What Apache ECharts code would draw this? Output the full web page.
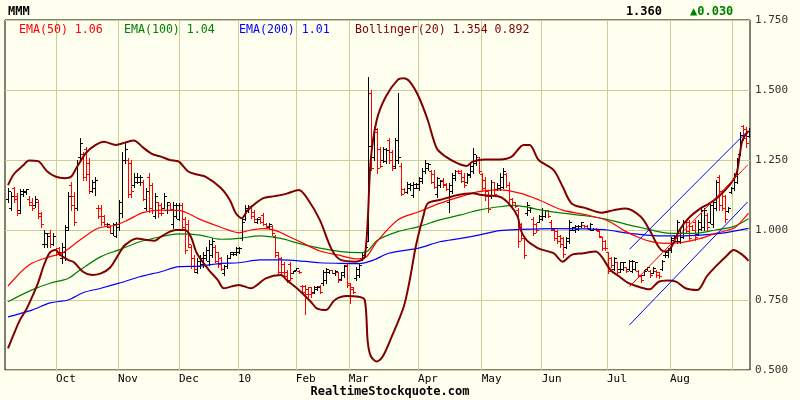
<!DOCTYPE html>
<html><head><meta charset="utf-8">
<script src="https://cdn.jsdelivr.net/npm/echarts@6/dist/echarts.min.js"></script>
<style>html,body{margin:0;padding:0;background:#FFFFF0}#c{width:800px;height:400px}</style>
</head><body><div id="c"></div>
<script>
// ---------- data ----------
const symbol = 'MMM';
const lastPrice = '1.360';
const lastChange = '0.030';
const legendEma50 = '1.06', legendEma100 = '1.04', legendEma200 = '1.01';
const legendBollUpper = '1.354', legendBollLower = '0.892';

const monthLabels = ['Oct','Nov','Dec','10','Feb','Mar','Apr','May','Jun','Jul','Aug',''];
const monthTickPos = [16, 36.7, 57, 76.7, 96, 113.7, 136.8, 158, 178, 199.8, 220.8, 241.5];
const priceTicks = [0.5, 0.75, 1.0, 1.25, 1.5, 1.75];

const opens = [1.11,1.08,1.15,1.12,1.07,1.13,1.135,1.11,1.10,1.09,1.10,1.06,0.95,0.95,0.99,0.95,0.93,0.935,0.90,0.92,
1.01,1.16,1.12,1.08,1.26,1.27,1.29,1.24,1.14,1.15,1.08,1.08,1.05,1.015,1.01,0.99,0.98,1.01,1.06,1.25,
1.25,1.24,1.16,1.17,1.17,1.17,1.08,1.19,1.16,1.05,1.10,1.09,1.08,1.07,1.09,1.02,1.05,1.04,1.09,1.04,
1.02,0.94,0.90,0.85,0.87,0.88,0.90,0.89,0.91,0.94,0.92,0.90,0.845,0.87,0.90,0.915,0.915,0.92,0.97,1.04,
1.07,1.085,1.065,1.03,1.045,1.055,1.02,1.01,1.015,0.98,0.92,0.90,0.88,0.85,0.88,0.848,0.858,0.855,0.80,0.80,
0.79,0.795,0.78,0.79,0.80,0.81,0.82,0.85,0.857,0.845,0.85,0.825,0.84,0.875,0.805,0.795,0.83,0.84,0.90,0.91,
0.96,1.49,1.26,1.35,1.29,1.25,1.245,1.32,1.28,1.23,1.25,1.23,1.145,1.135,1.15,1.125,1.15,1.15,1.175,1.21,
1.22,1.21,1.20,1.13,1.16,1.18,1.165,1.10,1.14,1.185,1.212,1.21,1.19,1.17,1.195,1.21,1.24,1.26,1.20,1.18,
1.14,1.12,1.17,1.145,1.15,1.155,1.20,1.16,1.11,1.10,1.07,1.02,0.97,1.06,1.07,1.04,1.02,1.03,1.04,1.05,
1.07,1.03,1.0,0.995,0.98,0.97,0.94,0.96,1.0,1.0,1.005,1.015,1.017,1.016,1.005,1.0,1.005,0.998,0.975,0.96,
0.92,0.90,0.86,0.885,0.86,0.86,0.868,0.86,0.855,0.86,0.855,0.835,0.84,0.86,0.855,0.848,0.855,0.85,0.86,0.91,
0.91,0.93,0.965,0.96,0.96,0.975,1.03,1.03,1.015,1.03,0.985,1.005,1.01,1.055,1.03,1.02,1.08,1.19,1.14,1.12,
1.068,1.135,1.15,1.17,1.27,1.37,1.36,1.335];
const highs = [1.149,1.137,1.155,1.131,1.145,1.145,1.145,1.12,1.113,1.12,1.107,1.065,1.0,0.988,1.0,0.988,0.935,0.94,0.952,1.018,
1.137,1.173,1.137,1.25,1.327,1.28,1.298,1.256,1.179,1.19,1.089,1.089,1.054,1.024,1.018,1.024,1.03,1.107,1.28,1.31,
1.256,1.25,1.202,1.202,1.196,1.179,1.149,1.202,1.167,1.131,1.101,1.095,1.131,1.101,1.095,1.101,1.095,1.095,1.095,1.048,
1.036,0.946,0.911,0.899,0.911,0.923,0.94,0.964,0.97,0.946,0.923,0.905,0.875,0.911,0.923,0.923,0.94,0.94,1.042,1.089,
1.089,1.089,1.071,1.042,1.048,1.06,1.024,1.024,1.018,0.982,0.923,0.905,0.887,0.857,0.887,0.853,0.866,0.856,0.804,0.804,
0.798,0.798,0.80,0.80,0.804,0.857,0.863,0.857,0.857,0.857,0.851,0.851,0.875,0.881,0.81,0.798,0.869,0.881,0.923,0.946,
1.548,1.50,1.369,1.363,1.298,1.298,1.292,1.327,1.286,1.33,1.488,1.238,1.149,1.173,1.167,1.173,1.167,1.19,1.22,1.25,
1.238,1.214,1.214,1.19,1.179,1.185,1.167,1.167,1.202,1.214,1.214,1.214,1.202,1.202,1.238,1.292,1.268,1.262,1.202,1.19,
1.143,1.179,1.173,1.167,1.202,1.22,1.202,1.173,1.113,1.101,1.077,1.024,0.976,1.101,1.083,1.048,1.024,1.054,1.077,1.071,
1.071,1.036,1.006,1.0,0.982,0.976,0.976,1.036,1.012,1.018,1.018,1.03,1.018,1.018,1.024,1.006,1.006,1.0,0.976,0.964,
0.923,0.905,0.905,0.887,0.887,0.887,0.869,0.893,0.893,0.887,0.857,0.839,0.857,0.869,0.857,0.869,0.857,0.851,0.893,0.923,
0.935,0.976,0.982,1.036,1.0,1.036,1.036,1.036,1.018,1.036,1.036,1.077,1.077,1.06,1.095,1.107,1.179,1.196,1.143,1.125,
1.083,1.155,1.202,1.256,1.351,1.375,1.369,1.363];
const lows = [1.101,1.071,1.101,1.054,1.06,1.12,1.13,1.09,1.071,1.083,1.042,1.012,0.94,0.94,0.94,0.946,0.91,0.91,0.881,0.893,
1.0,1.071,1.018,1.071,1.25,1.179,1.179,1.131,1.137,1.125,1.042,1.018,1.018,1.012,0.988,0.982,0.976,1.0,1.048,1.238,
1.119,1.119,1.155,1.167,1.161,1.107,1.071,1.065,1.06,1.042,1.048,1.054,1.077,1.06,1.071,1.006,1.042,1.036,1.006,0.917,
0.94,0.863,0.851,0.845,0.863,0.869,0.893,0.875,0.905,0.887,0.869,0.857,0.839,0.863,0.899,0.911,0.911,0.917,0.964,1.036,
1.065,1.042,1.03,1.024,1.024,1.018,1.012,1.006,0.982,0.905,0.845,0.839,0.827,0.815,0.821,0.846,0.856,0.848,0.774,0.70,
0.762,0.762,0.774,0.786,0.774,0.804,0.81,0.845,0.845,0.839,0.815,0.821,0.833,0.798,0.738,0.774,0.821,0.833,0.893,0.905,
0.96,1.214,1.25,1.202,1.226,1.244,1.238,1.238,1.214,1.22,1.238,1.125,1.131,1.131,1.143,1.119,1.149,1.143,1.167,1.202,
1.214,1.167,1.149,1.119,1.155,1.155,1.143,1.065,1.131,1.179,1.202,1.173,1.155,1.167,1.19,1.202,1.232,1.202,1.143,1.107,
1.065,1.113,1.125,1.143,1.143,1.149,1.155,1.101,1.083,1.083,0.94,0.964,0.899,1.054,1.065,0.982,0.994,1.03,1.036,1.048,
1.048,1.0,0.964,0.952,0.94,0.905,0.935,0.952,1.0,0.994,1.0,1.012,1.012,1.006,1.0,1.0,1.0,0.976,0.929,0.929,
0.845,0.869,0.857,0.845,0.851,0.857,0.851,0.857,0.851,0.857,0.833,0.815,0.839,0.857,0.833,0.845,0.833,0.827,0.857,0.905,
0.905,0.923,0.958,0.952,0.952,0.97,0.988,0.964,1.0,0.964,0.982,1.0,1.0,1.0,1.024,1.012,1.071,1.071,1.071,1.03,
1.065,1.131,1.143,1.167,1.268,1.321,1.298,1.333];
const closes = [1.14,1.12,1.11,1.06,1.14,1.14,1.145,1.09,1.08,1.11,1.05,1.02,0.99,0.98,0.95,0.98,0.915,0.92,0.94,1.0,
1.12,1.09,1.03,1.24,1.31,1.19,1.20,1.14,1.17,1.18,1.05,1.03,1.02,1.02,0.99,1.02,1.02,1.10,1.25,1.29,
1.13,1.14,1.19,1.19,1.19,1.11,1.14,1.08,1.07,1.12,1.06,1.06,1.12,1.10,1.075,1.09,1.09,1.09,1.01,0.93,
0.95,0.87,0.86,0.89,0.90,0.91,0.93,0.95,0.96,0.89,0.88,0.86,0.87,0.90,0.92,0.92,0.935,0.935,1.03,1.08,
1.085,1.05,1.04,1.04,1.03,1.02,1.015,1.02,0.99,0.91,0.85,0.85,0.835,0.82,0.83,0.852,0.864,0.85,0.78,0.77,
0.77,0.775,0.795,0.798,0.78,0.85,0.86,0.857,0.848,0.855,0.82,0.85,0.87,0.81,0.79,0.78,0.86,0.875,0.92,0.94,
1.30,1.22,1.36,1.22,1.23,1.29,1.285,1.25,1.22,1.32,1.26,1.13,1.135,1.165,1.16,1.165,1.165,1.185,1.21,1.24,
1.235,1.17,1.155,1.185,1.175,1.16,1.145,1.16,1.195,1.21,1.205,1.175,1.16,1.20,1.23,1.27,1.26,1.21,1.15,1.12,
1.075,1.17,1.13,1.16,1.19,1.21,1.16,1.11,1.09,1.085,0.96,0.97,0.91,1.09,1.08,0.99,1.0,1.05,1.07,1.07,
1.05,1.005,0.97,0.96,0.95,0.915,0.97,1.03,1.01,1.015,1.015,1.028,1.013,1.008,1.02,1.005,1.0,0.98,0.935,0.935,
0.855,0.875,0.90,0.85,0.885,0.885,0.855,0.89,0.89,0.885,0.84,0.82,0.855,0.868,0.84,0.865,0.84,0.835,0.89,0.92,
0.93,0.97,0.98,1.03,0.99,1.03,0.995,0.97,1.0,0.975,1.03,1.07,1.07,1.01,1.09,1.10,1.17,1.09,1.08,1.04,
1.08,1.15,1.20,1.25,1.34,1.33,1.31,1.36];

// indicator lines as [bar index, value]
const ema50 = [[0,0.80],[7,0.875],[14,0.905],[18,0.917],[24,0.964],[30,1.006],[36,1.018],[40,1.036],[45,1.062],[51,1.071],[57,1.07],[64,1.038],[71,1.01],[77,0.99],[81,1.0],[86,1.005],[90,0.995],[94,0.975],[98,0.955],[104,0.925],[110,0.911],[116,0.897],[119,0.9],[123,0.958],[130,1.036],[137,1.065],[144,1.095],[151,1.119],[157,1.137],[164,1.143],[171,1.131],[177,1.108],[185,1.071],[193,1.054],[200,1.033],[206,0.995],[210,0.975],[214,0.96],[219,0.952],[225,0.956],[231,0.97],[236,0.988],[242,1.006],[245,1.035],[247,1.06]];
const ema100 = [[0,0.744],[8,0.786],[14,0.81],[20,0.827],[24,0.857],[31,0.905],[37,0.929],[44,0.958],[51,0.976],[57,0.986],[64,0.982],[71,0.967],[77,0.97],[84,0.979],[91,0.97],[97,0.952],[104,0.935],[111,0.923],[117,0.919],[120,0.925],[123,0.962],[130,0.994],[137,1.012],[144,1.036],[151,1.054],[157,1.071],[164,1.083],[169,1.088],[174,1.08],[177,1.073],[185,1.06],[193,1.05],[199,1.04],[206,1.021],[213,1.004],[219,0.99],[225,0.988],[231,0.99],[236,1.0],[242,1.012],[247,1.04]];
const ema200 = [[0,0.69],[8,0.714],[14,0.74],[20,0.75],[25,0.776],[31,0.792],[37,0.81],[44,0.833],[51,0.851],[57,0.869],[64,0.871],[71,0.881],[77,0.883],[84,0.893],[91,0.893],[97,0.89],[104,0.883],[111,0.881],[117,0.88],[122,0.893],[127,0.917],[137,0.935],[144,0.958],[151,0.97],[157,0.982],[164,0.998],[171,1.002],[182,1.005],[193,1.004],[200,1.0],[206,0.99],[213,0.982],[220,0.979],[231,0.982],[239,0.99],[247,1.006]];
const bollUpper = [[0,1.16],[2,1.2],[5,1.23],[7,1.248],[10,1.246],[13,1.21],[16,1.19],[19,1.185],[21,1.19],[23,1.225],[26,1.275],[29,1.302],[32,1.315],[36,1.304],[39,1.312],[42,1.32],[45,1.295],[48,1.272],[51,1.262],[54,1.25],[57,1.244],[60,1.21],[63,1.198],[66,1.19],[71,1.15],[74,1.107],[76,1.06],[78,1.042],[80,1.071],[85,1.113],[89,1.121],[93,1.13],[97,1.143],[100,1.11],[104,1.036],[108,0.93],[111,0.893],[116,0.887],[119,0.905],[121,1.25],[123,1.393],[126,1.476],[130,1.536],[132,1.542],[134,1.53],[137,1.476],[140,1.393],[143,1.292],[146,1.262],[150,1.238],[153,1.229],[155,1.244],[159,1.252],[164,1.252],[168,1.262],[172,1.304],[174,1.304],[177,1.25],[182,1.214],[185,1.155],[188,1.095],[193,1.077],[198,1.062],[202,1.071],[206,1.077],[211,1.048],[214,1.0],[217,0.94],[219,0.923],[221,0.935],[224,1.0],[227,1.042],[231,1.077],[234,1.095],[237,1.119],[241,1.165],[243,1.202],[244,1.262],[245,1.321],[247,1.354]];
const bollLower = [[0,0.577],[2,0.63],[4,0.679],[6,0.714],[8,0.76],[10,0.81],[12,0.875],[14,0.92],[16,0.929],[17,0.915],[20,0.893],[22,0.885],[25,0.851],[28,0.839],[31,0.845],[34,0.865],[37,0.915],[39,0.946],[43,0.97],[46,0.965],[49,0.962],[51,0.976],[54,0.994],[56,1.0],[59,1.0],[61,0.976],[63,0.917],[67,0.857],[70,0.821],[72,0.792],[77,0.804],[81,0.792],[86,0.827],[91,0.839],[93,0.821],[97,0.786],[101,0.744],[103,0.72],[106,0.714],[109,0.75],[113,0.764],[117,0.762],[119,0.75],[120,0.6],[121,0.55],[123,0.53],[125,0.548],[128,0.619],[132,0.726],[134,0.821],[136,0.94],[138.5,1.048],[140,1.095],[144,1.107],[150,1.125],[155,1.131],[158,1.125],[164,1.119],[167,1.095],[170,1.048],[171,1.0],[173,0.964],[176,0.94],[178,0.93],[182,0.917],[185,0.887],[188,0.911],[192,0.917],[196,0.923],[198,0.905],[201,0.857],[204,0.833],[207,0.81],[211,0.795],[214,0.788],[217,0.815],[220,0.82],[223,0.815],[226,0.792],[230,0.786],[233,0.833],[236,0.869],[240,0.911],[242,0.929],[245,0.911],[247,0.89]];
const channelMid = [[207.3,0.7975],[246.7,1.232]];
const channelTop = [[207.3,0.931],[246.2,1.348]];
const channelBottom = [[207.3,0.661],[246.7,1.10]];

// ---------- chart ----------
const bars = opens.map((o, i) => [i, o, highs[i], lows[i], closes[i]]);
const FONT = '"DejaVu Sans Mono", "Liberation Mono", monospace';
const GRID = '#CCCC99';

function renderOHLC(params, api) {
  const i = api.value(0);
  const o = api.coord([i, api.value(1)]);
  const h = api.coord([i, api.value(2)]);
  const l = api.coord([i, api.value(3)]);
  const c = api.coord([i, api.value(4)]);
  const x = Math.round(h[0]) + 0.5;
  const color = api.value(4) >= api.value(1) ? '#000000' : '#FF0000';
  const st = { stroke: color, lineWidth: 1 };
  const yo = Math.round(o[1]) + 0.5, yc = Math.round(c[1]) + 0.5;
  return { type: 'group', children: [
    { type: 'line', shape: { x1: x, y1: Math.round(h[1]), x2: x, y2: Math.round(l[1]) + 1 }, style: st },
    { type: 'line', shape: { x1: x - 2.5, y1: yo, x2: x, y2: yo }, style: st },
    { type: 'line', shape: { x1: x, y1: yc, x2: x + 2.5, y2: yc }, style: st }
  ]};
}

function lineSeries(name, data, color, width, z, smooth) {
  return { name, type: 'line', data, showSymbol: false, smooth: smooth, z,
    lineStyle: { color, width }, silent: true, animation: false };
}

const chart = echarts.init(document.getElementById('c'), null, { renderer: 'canvas' });
chart.setOption({
  backgroundColor: '#FFFFF0',
  animation: false,
  grid: { left: 5, right: 50, top: 20, bottom: 30, show: true, borderColor: '#000', borderWidth: 1, backgroundColor: '#FFFFF0' },
  xAxis: {
    type: 'value', min: -1, max: 247.5,
    axisLine: { show: false },
    axisTick: { show: false, customValues: monthTickPos },
    splitLine: { show: true, lineStyle: { color: GRID, width: 1 } },
    axisLabel: {
      customValues: monthTickPos,
      formatter: v => { const k = monthTickPos.indexOf(v); return k >= 0 ? monthLabels[k] : ''; },
      align: 'left', margin: 4, color: '#000', fontFamily: FONT, fontSize: 11
    }
  },
  yAxis: {
    type: 'value', position: 'right', min: 0.5, max: 1.75, interval: 0.25,
    axisLine: { show: false }, axisTick: { show: false },
    splitLine: { show: true, lineStyle: { color: GRID, width: 1 } },
    axisLabel: { formatter: v => v.toFixed(3), color: '#333', fontFamily: FONT, fontSize: 11, margin: 5 }
  },
  series: [
    { type: 'custom', renderItem: renderOHLC, data: bars, encode: { x: 0, y: [1, 2, 3, 4] }, z: 2, clip: true, silent: true },
    lineSeries('EMA200', ema200, '#0000FF', 1.2, 3, 0.3),
    lineSeries('EMA100', ema100, '#008000', 1.2, 3, 0.3),
    lineSeries('EMA50', ema50, '#FF0000', 1.2, 3, 0.3),
    lineSeries('BollUpper', bollUpper, '#800000', 2, 4, 0.3),
    lineSeries('BollLower', bollLower, '#800000', 2, 4, 0.3),
    lineSeries('ChanTop', channelTop, '#0000FF', 1, 5, false),
    lineSeries('ChanMid', channelMid, '#FF0000', 1, 5, false),
    lineSeries('ChanBottom', channelBottom, '#0000FF', 1, 5, false)
  ],
  graphic: [
    { type: 'text', x: 8, y: 12, style: { text: symbol, fill: '#000', font: 'bold 12px ' + FONT, verticalAlign: 'middle' } },
    { type: 'text', x: 662, y: 12, style: { text: lastPrice, fill: '#000', font: 'bold 12px ' + FONT, align: 'right', verticalAlign: 'middle' } },
    { type: 'text', x: 690, y: 12, style: { text: '\u25B2' + lastChange, fill: '#008000', font: 'bold 12px ' + FONT, verticalAlign: 'middle' } },
    { type: 'text', x: 19, y: 30, style: { text: 'EMA(50) ' + legendEma50, fill: '#FF0000', font: '11.6px ' + FONT, verticalAlign: 'middle' }, z: 10 },
    { type: 'text', x: 124, y: 30, style: { text: 'EMA(100) ' + legendEma100, fill: '#008000', font: '11.6px ' + FONT, verticalAlign: 'middle' }, z: 10 },
    { type: 'text', x: 239, y: 30, style: { text: 'EMA(200) ' + legendEma200, fill: '#0000FF', font: '11.6px ' + FONT, verticalAlign: 'middle' }, z: 10 },
    { type: 'text', x: 355, y: 30, style: { text: 'Bollinger(20) ' + legendBollUpper + ' ' + legendBollLower, fill: '#800000', font: '11.6px ' + FONT, verticalAlign: 'middle' }, z: 10 },
    { type: 'text', x: 390, y: 392, style: { text: 'RealtimeStockquote.com', fill: '#000', font: 'bold 12px ' + FONT, align: 'center', verticalAlign: 'middle' } }
  ]
});
</script></body></html>
